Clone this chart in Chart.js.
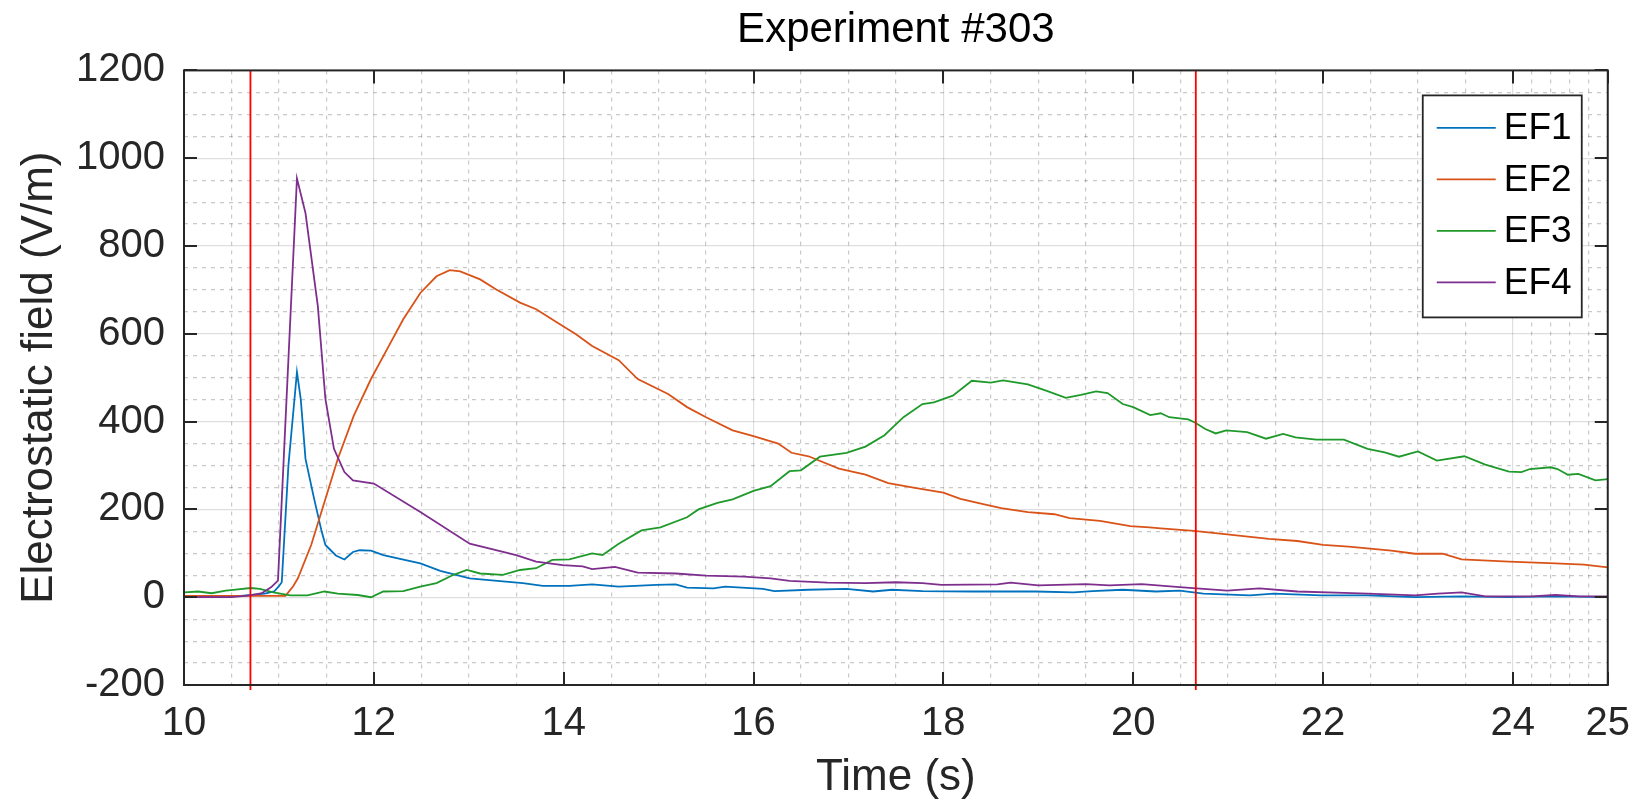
<!DOCTYPE html>
<html>
<head>
<meta charset="utf-8">
<title>Experiment #303</title>
<script src="https://cdn.jsdelivr.net/npm/chart.js@4.4.1/dist/chart.umd.min.js"></script>
<style>
  html, body { margin: 0; padding: 0; background: #fff; }
  #wrap { width: 1645px; height: 807px; }
</style>
</head>
<body>
<div id="wrap"><canvas id="efChart" width="1645" height="807"></canvas></div>
<script>
// series (time in s, field in V/m)
const ef1Time = [10, 10.3, 10.6, 10.85, 10.95, 11.0, 11.03, 11.1, 11.19, 11.23, 11.28, 11.37, 11.45, 11.49, 11.6, 11.69, 11.78, 11.85, 11.97, 12.1, 12.3, 12.49, 12.7, 13.01, 13.36, 13.57, 13.78, 14.06, 14.3, 14.58, 14.98, 15.18, 15.3, 15.58, 15.7, 16.1, 16.22, 16.58, 16.98, 17.26, 17.46, 17.78, 18.3, 18.97, 19.37, 19.57, 19.89, 20.24, 20.49, 20.74, 21.23, 21.48, 21.98, 22.47, 22.97, 23.46, 23.96, 24.45, 25];
const ef1 = [0, 1, 3, 8, 13, 25, 34, 300, 513, 451, 315, 225, 150, 119, 95, 86, 103, 107, 106, 96, 86, 77, 60, 43, 36, 32, 26, 26, 29, 24, 28, 29, 22, 20, 24, 19, 14, 17, 19, 13, 17, 14, 13, 13, 11, 14, 17, 13, 15, 8, 4, 8, 4, 4, 0, 2, 0, 2, 0];

const ef2Time = [10, 10.5, 11.07, 11.15, 11.2, 11.34, 11.48, 11.62, 11.79, 11.97, 12.14, 12.31, 12.49, 12.66, 12.8, 12.91, 13.12, 13.29, 13.54, 13.71, 13.99, 14.13, 14.3, 14.58, 14.78, 15.1, 15.3, 15.5, 15.78, 16.0, 16.26, 16.4, 16.58, 16.9, 17.18, 17.42, 17.7, 18.0, 18.18, 18.42, 18.61, 18.89, 19.17, 19.33, 19.65, 19.97, 20.17, 20.29, 20.64, 20.99, 21.43, 21.73, 22.0, 22.27, 22.72, 22.97, 23.26, 23.46, 23.96, 24.45, 24.75, 25];
const ef2 = [3, 3, 3, 25, 43, 119, 217, 315, 414, 497, 565, 633, 693, 731, 745, 742, 724, 701, 671, 656, 618, 599, 572, 540, 497, 463, 433, 410, 380, 367, 350, 329, 321, 293, 279, 260, 249, 238, 224, 212, 203, 194, 189, 180, 174, 162, 159, 157, 151, 143, 133, 128, 119, 115, 106, 99, 99, 86, 81, 77, 74, 68];

const ef3Time = [10, 10.15, 10.29, 10.44, 10.57, 10.7, 10.8, 10.94, 11.12, 11.3, 11.48, 11.62, 11.83, 11.97, 12.1, 12.31, 12.49, 12.66, 12.84, 12.98, 13.12, 13.36, 13.54, 13.71, 13.88, 14.06, 14.3, 14.41, 14.58, 14.82, 15.02, 15.3, 15.42, 15.62, 15.78, 16.0, 16.18, 16.38, 16.5, 16.7, 16.98, 17.18, 17.38, 17.58, 17.78, 17.9, 18.1, 18.3, 18.5, 18.63, 18.89, 19.09, 19.29, 19.45, 19.61, 19.73, 19.89, 20.0, 20.18, 20.29, 20.38, 20.58, 20.65, 20.76, 20.87, 20.98, 21.2, 21.4, 21.58, 21.71, 21.93, 22.22, 22.47, 22.65, 22.8, 23.0, 23.2, 23.49, 23.71, 23.96, 24.09, 24.18, 24.4, 24.47, 24.58, 24.69, 24.87, 25];
const ef3 = [11, 13, 9, 15, 18, 21, 19, 11, 4, 4, 13, 8, 5, 0, 13, 14, 24, 32, 51, 62, 54, 51, 62, 66, 85, 86, 100, 96, 122, 152, 159, 182, 200, 215, 223, 242, 253, 287, 289, 320, 329, 343, 369, 410, 440, 444, 459, 493, 489, 494, 485, 470, 454, 461, 469, 465, 440, 433, 415, 419, 410, 405, 398, 383, 373, 380, 376, 361, 372, 364, 359, 359, 338, 330, 320, 332, 311, 321, 302, 286, 285, 292, 296, 292, 279, 281, 266, 269];

const ef4Time = [10, 10.5, 10.7, 10.82, 10.92, 10.99, 11.19, 11.28, 11.41, 11.49, 11.58, 11.69, 11.78, 12.0, 12.49, 13.01, 13.5, 13.71, 13.99, 14.2, 14.3, 14.54, 14.78, 15.18, 15.5, 15.9, 16.18, 16.38, 16.78, 17.18, 17.5, 17.78, 17.98, 18.57, 18.71, 19.0, 19.5, 19.75, 20.09, 20.49, 20.74, 20.99, 21.33, 21.73, 22.22, 22.47, 22.97, 23.21, 23.46, 23.71, 24.2, 24.45, 24.7, 25];
const ef4 = [0, 0, 4, 9, 23, 38, 954, 875, 663, 451, 338, 285, 266, 259, 194, 122, 96, 81, 73, 70, 64, 69, 56, 54, 49, 47, 43, 37, 33, 32, 34, 32, 28, 29, 33, 27, 30, 27, 30, 23, 19, 15, 20, 13, 10, 8, 4, 8, 11, 2, 2, 5, 2, 2];

// red cursor lines
const cursorTimes = [10.7, 20.66];

const seriesNames = ['EF1', 'EF2', 'EF3', 'EF4'];
const seriesColors = ['#0072BD', '#D95319', '#1F9A2A', '#7E2F8E'];

// axis ticks
const xTickLabels = [10, 12, 14, 16, 18, 20, 22, 24, 25];
const yTickLabels = [-200, 0, 200, 400, 600, 800, 1000, 1200];

const xGrid = [];
for (let v = 10; v <= 24; v += 0.5) xGrid.push(v);
xGrid.push(24.2, 24.4, 24.6, 24.8, 25);
const yGrid = [];
for (let v = -200; v <= 1200; v += 50) yGrid.push(v);

const FONT = 'Liberation Sans, Arial, Helvetica, sans-serif';
const AXIS_COLOR = '#262626';
const MAJOR_GRID = 'rgba(38,38,38,0.15)';
const MINOR_GRID = 'rgba(38,38,38,0.25)';

function toPoints(t, v) {
  return t.map((x, i) => ({ x: x, y: v[i] }));
}

const seriesData = [[ef1Time, ef1], [ef2Time, ef2], [ef3Time, ef3], [ef4Time, ef4]];

const datasets = seriesData.map((s, i) => ({
  label: seriesNames[i],
  data: toPoints(s[0], s[1]),
  borderColor: seriesColors[i],
  backgroundColor: seriesColors[i],
  borderWidth: 1.8,
  pointRadius: 0,
  showLine: true,
  tension: 0,
  order: 10 - i
}));

cursorTimes.forEach(t => {
  datasets.push({
    label: 'cursor',
    data: [{ x: t, y: -220 }, { x: t, y: 1200 }],
    borderColor: '#FF0000',
    borderWidth: 1.8,
    pointRadius: 0,
    showLine: true,
    order: 1,
    clip: { left: 0, top: 0, right: 0, bottom: 5 }
  });
});

// box round the axes with inward tick marks
const axesBox = {
  id: 'axesBox',
  afterDatasetsDraw(chart) {
    const { ctx, chartArea: a, scales } = chart;
    ctx.save();
    ctx.strokeStyle = AXIS_COLOR;
    ctx.lineWidth = 2;
    ctx.beginPath();
    xTickLabels.forEach(v => {
      const px = Math.round(scales.x.getPixelForValue(v));
      ctx.moveTo(px, a.bottom); ctx.lineTo(px, a.bottom - 13);
      ctx.moveTo(px, a.top); ctx.lineTo(px, a.top + 13);
    });
    yTickLabels.forEach(v => {
      const py = Math.round(scales.y.getPixelForValue(v));
      ctx.moveTo(a.left, py); ctx.lineTo(a.left + 13, py);
      ctx.moveTo(a.right, py); ctx.lineTo(a.right - 13, py);
    });
    ctx.stroke();
    ctx.strokeRect(a.left, a.top, a.right - a.left, a.bottom - a.top);
    ctx.restore();
  }
};

// legend box inside the top right corner
const boxLegend = {
  id: 'boxLegend',
  afterDraw(chart) {
    const { ctx, chartArea: a } = chart;
    const items = chart.data.datasets.filter(d => d.label !== 'cursor');
    const w = 159, rowH = 51.5, h = 222;
    const left = a.right - 26 - w, top = a.top + 25;
    ctx.save();
    ctx.fillStyle = '#fff';
    ctx.fillRect(left, top, w, h);
    ctx.strokeStyle = AXIS_COLOR;
    ctx.lineWidth = 1.8;
    ctx.strokeRect(left, top, w, h);
    ctx.font = '37px ' + FONT;
    ctx.textBaseline = 'middle';
    ctx.textAlign = 'left';
    items.forEach((d, i) => {
      const y = top + 32.5 + i * rowH;
      ctx.strokeStyle = d.borderColor;
      ctx.lineWidth = 1.8;
      ctx.beginPath();
      ctx.moveTo(left + 14, y);
      ctx.lineTo(left + 73, y);
      ctx.stroke();
      ctx.fillStyle = '#000';
      ctx.fillText(d.label, left + 81, y + 1);
    });
    ctx.restore();
  }
};

Chart.defaults.font.family = FONT;
Chart.defaults.color = AXIS_COLOR;

const ctx = document.getElementById('efChart').getContext('2d');
const chart = new Chart(ctx, {
  type: 'scatter',
  data: { datasets: datasets },
  options: {
    responsive: false,
    animation: false,
    devicePixelRatio: 1,
    layout: { padding: { left: 0, right: 25, top: 0, bottom: 0 } },
    plugins: {
      legend: { display: false },
      tooltip: { enabled: false },
      title: {
        display: true,
        text: 'Experiment #303',
        color: '#000',
        fullSize: false,
        font: { size: 42, weight: 'normal' },
        padding: { top: 5, bottom: 15 }
      }
    },
    scales: {
      x: {
        type: 'linear',
        min: 10,
        max: 25,
        afterBuildTicks: axis => { axis.ticks = xGrid.map(v => ({ value: v })); },
        afterFit: scale => { scale.height = 122; },
        ticks: {
          autoSkip: false,
          maxRotation: 0,
          padding: 15,
          font: { size: 40 },
          color: AXIS_COLOR,
          callback: v => xTickLabels.includes(v) ? String(v) : ''
        },
        grid: {
          drawTicks: false,
          lineWidth: 1.2,
          color: c => (c.tick && xTickLabels.includes(c.tick.value)) ? MAJOR_GRID : MINOR_GRID
        },
        border: {
          display: false,
          dash: c => (c.tick && !xTickLabels.includes(c.tick.value)) ? [4, 5] : []
        },
        title: {
          display: true,
          text: 'Time (s)',
          color: AXIS_COLOR,
          font: { size: 44 },
          padding: { top: 0, bottom: 3 }
        }
      },
      y: {
        min: -200,
        max: 1200,
        afterBuildTicks: axis => { axis.ticks = yGrid.map(v => ({ value: v })); },
        afterFit: scale => { scale.width = 184; },
        ticks: {
          autoSkip: false,
          padding: 19,
          font: { size: 40 },
          color: AXIS_COLOR,
          callback: v => yTickLabels.includes(v) ? String(v) : ''
        },
        grid: {
          drawTicks: false,
          lineWidth: 1.2,
          color: c => (c.tick && yTickLabels.includes(c.tick.value)) ? MAJOR_GRID : MINOR_GRID
        },
        border: {
          display: false,
          dash: c => (c.tick && !yTickLabels.includes(c.tick.value)) ? [4, 5] : []
        },
        title: {
          display: true,
          text: 'Electrostatic field (V/m)',
          color: AXIS_COLOR,
          font: { size: 44 },
          padding: { top: 13, bottom: 0 }
        }
      }
    }
  },
  plugins: [axesBox, boxLegend]
});
</script>
</body>
</html>
